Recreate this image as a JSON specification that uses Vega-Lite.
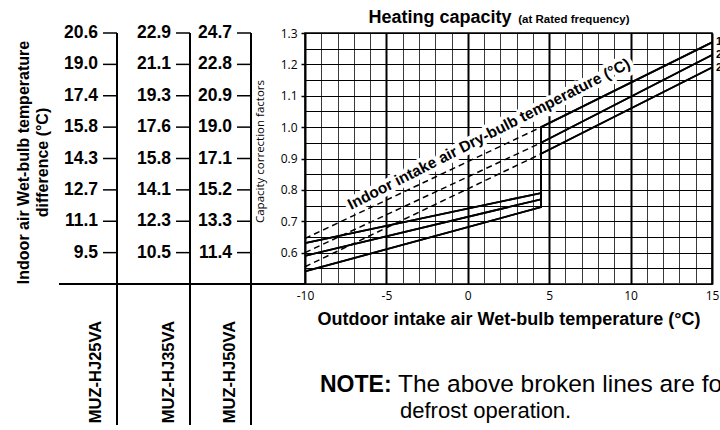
{
  "$schema": "https://vega.github.io/schema/vega-lite/v6.json",
  "width": 407,
  "height": 251,
  "autosize": {"type": "none"},
  "padding": {"left": 305, "top": 33, "right": 8, "bottom": 146},
  "background": "white",
  "config": {
    "view": {"stroke": "#000", "strokeWidth": 1.5},
    "font": "Liberation Sans"
  },
  "datasets": {
    "curves": [
      {"db": "15", "i": 1, "t": -10, "cf": 0.63},
      {"db": "15", "i": 2, "t": 4.5, "cf": 0.79},
      {"db": "15", "i": 3, "t": 4.5, "cf": 1.0},
      {"db": "15", "i": 4, "t": 15, "cf": 1.27},
      {"db": "20", "i": 1, "t": -10, "cf": 0.59},
      {"db": "20", "i": 2, "t": 4.5, "cf": 0.77},
      {"db": "20", "i": 3, "t": 4.5, "cf": 0.95},
      {"db": "20", "i": 4, "t": 15, "cf": 1.23},
      {"db": "25", "i": 1, "t": -10, "cf": 0.54},
      {"db": "25", "i": 2, "t": 4.5, "cf": 0.745},
      {"db": "25", "i": 3, "t": 4.5, "cf": 0.915},
      {"db": "25", "i": 4, "t": 15, "cf": 1.19}
    ],
    "defrost": [
      {"db": "15", "t": -10, "cf": 0.645},
      {"db": "15", "t": 4.5, "cf": 1.0},
      {"db": "20", "t": -10, "cf": 0.6},
      {"db": "20", "t": 4.5, "cf": 0.95},
      {"db": "25", "t": -10, "cf": 0.555},
      {"db": "25", "t": 4.5, "cf": 0.915}
    ],
    "table": [
      {"model": "MUZ-HJ25VA", "kw": 2.5, "cf": 1.3, "dT": "20.6"},
      {"model": "MUZ-HJ25VA", "kw": 2.5, "cf": 1.2, "dT": "19.0"},
      {"model": "MUZ-HJ25VA", "kw": 2.5, "cf": 1.1, "dT": "17.4"},
      {"model": "MUZ-HJ25VA", "kw": 2.5, "cf": 1.0, "dT": "15.8"},
      {"model": "MUZ-HJ25VA", "kw": 2.5, "cf": 0.9, "dT": "14.3"},
      {"model": "MUZ-HJ25VA", "kw": 2.5, "cf": 0.8, "dT": "12.7"},
      {"model": "MUZ-HJ25VA", "kw": 2.5, "cf": 0.7, "dT": "11.1"},
      {"model": "MUZ-HJ25VA", "kw": 2.5, "cf": 0.6, "dT": "9.5"},
      {"model": "MUZ-HJ35VA", "kw": 3.5, "cf": 1.3, "dT": "22.9"},
      {"model": "MUZ-HJ35VA", "kw": 3.5, "cf": 1.2, "dT": "21.1"},
      {"model": "MUZ-HJ35VA", "kw": 3.5, "cf": 1.1, "dT": "19.3"},
      {"model": "MUZ-HJ35VA", "kw": 3.5, "cf": 1.0, "dT": "17.6"},
      {"model": "MUZ-HJ35VA", "kw": 3.5, "cf": 0.9, "dT": "15.8"},
      {"model": "MUZ-HJ35VA", "kw": 3.5, "cf": 0.8, "dT": "14.1"},
      {"model": "MUZ-HJ35VA", "kw": 3.5, "cf": 0.7, "dT": "12.3"},
      {"model": "MUZ-HJ35VA", "kw": 3.5, "cf": 0.6, "dT": "10.5"},
      {"model": "MUZ-HJ50VA", "kw": 5.0, "cf": 1.3, "dT": "24.7"},
      {"model": "MUZ-HJ50VA", "kw": 5.0, "cf": 1.2, "dT": "22.8"},
      {"model": "MUZ-HJ50VA", "kw": 5.0, "cf": 1.1, "dT": "20.9"},
      {"model": "MUZ-HJ50VA", "kw": 5.0, "cf": 1.0, "dT": "19.0"},
      {"model": "MUZ-HJ50VA", "kw": 5.0, "cf": 0.9, "dT": "17.1"},
      {"model": "MUZ-HJ50VA", "kw": 5.0, "cf": 0.8, "dT": "15.2"},
      {"model": "MUZ-HJ50VA", "kw": 5.0, "cf": 0.7, "dT": "13.3"},
      {"model": "MUZ-HJ50VA", "kw": 5.0, "cf": 0.6, "dT": "11.4"}
    ],
    "models": [
      {"model": "MUZ-HJ25VA", "kw": 2.5},
      {"model": "MUZ-HJ35VA", "kw": 3.5},
      {"model": "MUZ-HJ50VA", "kw": 5.0}
    ]
  },
  "layer": [
    {
      "layer": [
        {
          "data": {"name": "curves"},
          "mark": {"type": "line", "color": "#000", "strokeWidth": 1.8},
          "encoding": {
            "x": {
              "field": "t",
              "type": "quantitative",
              "scale": {"domain": [-10, 15], "nice": false, "zero": false},
              "axis": {
                "values": [-10, -9, -8, -7, -6, -5, -4, -3, -2, -1, 0, 1, 2, 3, 4, 5, 6, 7, 8, 9, 10, 11, 12, 13, 14, 15],
                "tickCount": 100,
                "labelExpr": "datum.value % 5 === 0 ? '' + datum.value : ''",
                "labelOverlap": false,
                "labelFlush": false,
                "ticks": false,
                "domain": false,
                "grid": true,
                "gridColor": {"condition": {"test": "datum.value % 5 === 0", "value": "#000"}, "value": "#3a3a3a"},
                "gridWidth": {"condition": {"test": "datum.value % 5 === 0", "value": 2}, "value": 1},
                "gridOpacity": 1,
                "labelFont": "Open Sans",
                "labelFontSize": 12,
                "labelColor": "#000",
                "labelPadding": 6,
                "title": "Outdoor intake air Wet-bulb temperature (°C)",
                "titleFont": "Liberation Sans",
                "titleFontSize": 18,
                "titleFontWeight": "bold",
                "titleColor": "#000",
                "titlePadding": 9
              }
            },
            "y": {
              "field": "cf",
              "type": "quantitative",
              "scale": {"domain": [0.5, 1.3], "nice": false, "zero": false},
              "axis": {
                "values": [0.5, 0.55, 0.6, 0.65, 0.7, 0.75, 0.8, 0.85, 0.9, 0.95, 1.0, 1.05, 1.1, 1.15, 1.2, 1.25, 1.3],
                "tickCount": 100,
                "labelExpr": "datum.value > 0.56 && round(datum.value * 100) % 10 === 0 ? format(datum.value, '.1f') : ''",
                "labelOverlap": false,
                "labelFlush": false,
                "tickSize": 4,
                "tickColor": "#000",
                "tickWidth": 1.5,
                "tickOpacity": {"condition": {"test": "datum.value > 0.56 && round(datum.value * 100) % 10 === 0", "value": 1}, "value": 0},
                "domain": false,
                "grid": true,
                "gridColor": "#000",
                "gridWidth": 1,
                "gridOpacity": 1,
                "labelFont": "Open Sans",
                "labelFontSize": 12,
                "labelColor": "#000",
                "labelPadding": 4,
                "title": "Capacity correction factors",
                "titleFont": "Open Sans",
                "titleFontSize": 11.5,
                "titleFontWeight": "normal",
                "titleColor": "#000",
                "titlePadding": 15,
                "titleY": 118
              }
            },
            "detail": {"field": "db"},
            "order": {"field": "i", "type": "quantitative"}
          }
        },
        {
          "data": {"values": [{"label": "Indoor intake air Dry-bulb temperature (°C)"}]},
          "mark": {"type": "text", "angle": 333, "align": "center", "baseline": "middle", "font": "Liberation Sans", "fontSize": 15.5, "fontWeight": "bold", "fill": "#fff", "stroke": "#fff", "strokeWidth": 8, "strokeJoin": "round"},
          "encoding": {
            "x": {"datum": 1.3, "type": "quantitative"},
            "y": {"datum": 0.978, "type": "quantitative"},
            "text": {"field": "label"}
          }
        },
        {
          "data": {"name": "curves"},
          "mark": {"type": "line", "color": "#000", "strokeWidth": 1.8},
          "encoding": {
            "x": {"field": "t", "type": "quantitative"},
            "y": {"field": "cf", "type": "quantitative"},
            "detail": {"field": "db"},
            "order": {"field": "i", "type": "quantitative"}
          }
        },
        {
          "data": {"name": "defrost"},
          "mark": {"type": "line", "color": "#000", "strokeWidth": 1.5, "strokeDash": [6, 4]},
          "encoding": {
            "x": {"field": "t", "type": "quantitative"},
            "y": {"field": "cf", "type": "quantitative"},
            "detail": {"field": "db"}
          }
        },
        {
          "data": {"values": [{"label": "Indoor intake air Dry-bulb temperature (°C)"}]},
          "mark": {"type": "text", "angle": 333, "align": "center", "baseline": "middle", "font": "Liberation Sans", "fontSize": 15.5, "fontWeight": "bold", "color": "#000"},
          "encoding": {
            "x": {"datum": 1.3, "type": "quantitative"},
            "y": {"datum": 0.978, "type": "quantitative"},
            "text": {"field": "label"}
          }
        },
        {
          "data": {"name": "curves"},
          "transform": [{"filter": "datum.i === 4"}],
          "mark": {"type": "text", "align": "left", "baseline": "middle", "dx": 4, "fontSize": 11, "fontWeight": "bold", "color": "#000"},
          "encoding": {
            "x": {"field": "t", "type": "quantitative"},
            "y": {"field": "cf", "type": "quantitative"},
            "text": {"field": "db"}
          }
        },
        {
          "data": {"values": [{"label": "Heating capacity"}]},
          "mark": {"type": "text", "align": "left", "baseline": "alphabetic", "yOffset": -10, "font": "Liberation Sans", "fontSize": 18, "fontWeight": "bold", "color": "#000"},
          "encoding": {
            "x": {"datum": -6.1, "type": "quantitative"},
            "y": {"datum": 1.3, "type": "quantitative"},
            "text": {"field": "label"}
          }
        },
        {
          "data": {"values": [{"label": "(at Rated frequency)"}]},
          "mark": {"type": "text", "align": "left", "baseline": "alphabetic", "yOffset": -10, "font": "Liberation Sans", "fontSize": 11.5, "fontWeight": "bold", "color": "#000"},
          "encoding": {
            "x": {"datum": 3.1, "type": "quantitative"},
            "y": {"datum": 1.3, "type": "quantitative"},
            "text": {"field": "label"}
          }
        },
        {
          "data": {"values": [{"label": "x"}]},
          "mark": {"type": "rule", "color": "#000", "strokeWidth": 2, "xOffset": -246},
          "encoding": {
            "x": {"datum": -10, "type": "quantitative"},
            "x2": {"datum": -10},
            "y": {"datum": 0.5, "type": "quantitative"}
          }
        },
        {
          "data": {"values": [{"label": "NOTE:"}]},
          "mark": {"type": "text", "align": "left", "baseline": "alphabetic", "xOffset": 15, "yOffset": 108, "font": "Liberation Sans", "fontSize": 23, "fontWeight": "bold", "color": "#000"},
          "encoding": {
            "x": {"datum": -10, "type": "quantitative"},
            "y": {"datum": 0.5, "type": "quantitative"},
            "text": {"field": "label"}
          }
        },
        {
          "data": {"values": [{"label": "The above broken lines are for the case of"}]},
          "mark": {"type": "text", "align": "left", "baseline": "alphabetic", "xOffset": 93, "yOffset": 108, "font": "Liberation Sans", "fontSize": 24.5, "color": "#000"},
          "encoding": {
            "x": {"datum": -10, "type": "quantitative"},
            "y": {"datum": 0.5, "type": "quantitative"},
            "text": {"field": "label"}
          }
        },
        {
          "data": {"values": [{"label": "defrost operation."}]},
          "mark": {"type": "text", "align": "left", "baseline": "alphabetic", "xOffset": 95, "yOffset": 134, "font": "Liberation Sans", "fontSize": 22, "color": "#000"},
          "encoding": {
            "x": {"datum": -10, "type": "quantitative"},
            "y": {"datum": 0.5, "type": "quantitative"},
            "text": {"field": "label"}
          }
        },
        {
          "data": {"values": [{"label": ["Indoor air Wet-bulb temperature", "difference (°C)"]}]},
          "mark": {"type": "text", "angle": 270, "align": "center", "baseline": "alphabetic", "lineHeight": 19, "xOffset": -276, "yOffset": 4, "font": "Liberation Sans", "fontSize": 16, "fontWeight": "bold", "color": "#000"},
          "encoding": {
            "x": {"datum": -10, "type": "quantitative"},
            "y": {"datum": 0.9, "type": "quantitative"},
            "text": {"field": "label"}
          }
        }
      ]
    },
    {
      "layer": [
        {
          "data": {"name": "models"},
          "mark": {"type": "rule", "color": "#000", "strokeWidth": 2, "y2Offset": 141},
          "encoding": {
            "x": {"field": "kw", "type": "quantitative", "scale": {"domain": [2.5, 3.5, 5.0], "range": [-188, -115, -54], "nice": false, "zero": false}, "axis": null},
            "y": {"datum": 1.3, "type": "quantitative", "scale": {"domain": [0.5, 1.3], "nice": false, "zero": false}, "axis": null},
            "y2": {"datum": 0.5}
          }
        },
        {
          "data": {"name": "table"},
          "mark": {"type": "rule", "color": "#000", "strokeWidth": 1.5, "xOffset": -14},
          "encoding": {
            "x": {"field": "kw", "type": "quantitative"},
            "x2": {"field": "kw"},
            "y": {"field": "cf", "type": "quantitative"}
          }
        },
        {
          "data": {"name": "table"},
          "mark": {"type": "text", "align": "right", "baseline": "middle", "xOffset": -19, "font": "Liberation Sans", "fontSize": 17.5, "fontWeight": "bold", "color": "#000"},
          "encoding": {
            "x": {"field": "kw", "type": "quantitative"},
            "y": {"field": "cf", "type": "quantitative"},
            "text": {"field": "dT"}
          }
        },
        {
          "data": {"name": "models"},
          "mark": {"type": "text", "angle": 270, "align": "center", "baseline": "middle", "xOffset": -21, "yOffset": 88, "font": "Liberation Sans", "fontSize": 16.5, "fontWeight": "bold", "color": "#000"},
          "encoding": {
            "x": {"field": "kw", "type": "quantitative"},
            "y": {"datum": 0.5, "type": "quantitative"},
            "text": {"field": "model"}
          }
        }
      ]
    }
  ],
  "resolve": {"scale": {"x": "independent", "y": "independent"}}
}
